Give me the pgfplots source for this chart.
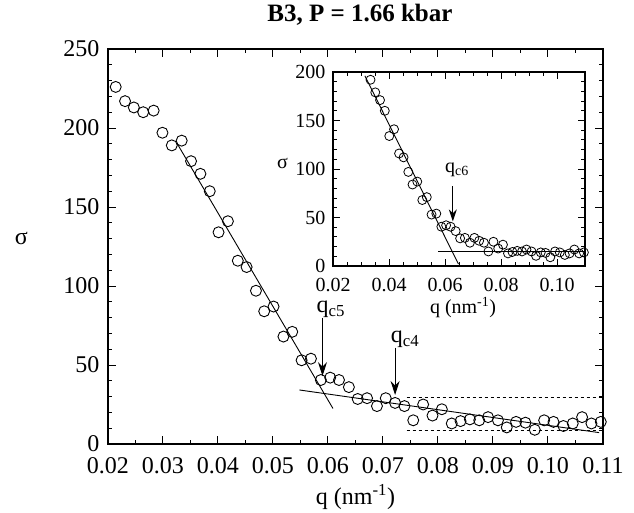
\documentclass[border=0pt]{standalone}
\usepackage{fontspec}
\setmainfont{Liberation Serif}
\usepackage{pgfplots}
\usepackage{pgfplotstable}
\pgfplotsset{compat=1.18}
\usetikzlibrary{arrows.meta}

% sigma vs q, same measurements in both panels
\pgfplotstableread{
q      s
0.0214 226
0.0231 217
0.0247 213
0.0264 210
0.0283 211
0.0299 197
0.0316 189
0.0334 192
0.0351 179
0.0368 171
0.0385 160
0.0401 134
0.0418 141
0.0436 116
0.0452 112
0.0469 97
0.0484 84
0.0501 87
0.0519 68
0.0535 71
0.0552 53
0.0569 54
0.0587 40.5
0.0604 42
0.0620 40.5
0.0638 36
0.0654 28.5
0.0671 29
0.0689 24
0.0705 29
0.0722 26
0.0739 24
0.0755 15
0.0773 25
0.0790 18
0.0807 22
0.0825 13
0.0841 14.5
0.0858 15.6
0.0875 15
0.0891 17
0.0909 15
0.0925 10.5
0.0942 14
0.0959 13.5
0.0976 9
0.0993 15
0.1010 14
0.1028 11.4
0.1045 13
0.1062 17
0.1079 13
0.1096 14
}\sigdata

\newcommand{\bigfont}{\fontsize{24}{28}\selectfont}
\newcommand{\smallfont}{\fontsize{20}{24}\selectfont}

\begin{document}
\begin{tikzpicture}
\begin{axis}[
    name=main,
    scale only axis,
    width=495pt, height=395pt,
    xmin=0.02, xmax=0.11,
    ymin=0, ymax=250,
    xtick={0.02,0.03,...,0.11},
    ytick={0,50,...,250},
    minor x tick num=1,
    minor y tick num=4,
    major tick length=8pt,
    minor tick length=4pt,
    axis line style={line width=1.2pt},
    every tick/.style={black, line width=1pt},
    /pgf/number format/assume math mode=true,
    xticklabel style={font=\bigfont, yshift=-10pt, /pgf/number format/.cd, fixed, fixed zerofill, precision=2},
    yticklabel style={font=\bigfont, xshift=-5pt},
    scaled x ticks=false,
    xlabel={q (nm\textsuperscript{-1})},
    xlabel style={font=\bigfont, at={(axis description cs:0.5,-0.135)}, anchor=center},
    ylabel={σ},
    ylabel style={font=\bigfont, at={(axis description cs:-0.175,0.52)}, rotate=-90, anchor=center},
    clip=false,
]
\addplot[only marks, mark=o, mark size=5.5pt, mark options={line width=0.9pt}, black]
    table[x=q, y=s] {\sigdata};
% fitted lines
\addplot[black, line width=0.9pt] coordinates {(0.0326,190) (0.0609,22.5)};
\addplot[black, line width=0.9pt] coordinates {(0.0548,34.2) (0.1093,7.2)};
% dashed band
\addplot[black, dashed, line width=0.8pt] coordinates {(0.0743,29.3) (0.11,29.3)};
\addplot[black, dashed, line width=0.8pt] coordinates {(0.0743,8.9) (0.11,8.9)};
% arrows and labels
\draw[line width=1pt, -{Stealth[length=14pt,width=9pt]}] (axis cs:0.0590,80) -- (axis cs:0.0590,43);
\node[font=\bigfont] at (axis cs:0.0605,85) {q\textsubscript{c5}};
\draw[line width=1pt, -{Stealth[length=14pt,width=9pt]}] (axis cs:0.0722,61) -- (axis cs:0.0722,31);
\node[font=\bigfont] at (axis cs:0.0740,66) {q\textsubscript{c4}};
\node[font=\bfseries\fontsize{25}{29}\selectfont] at (axis description cs:0.509,1.086) {B3, P = 1.66 kbar};
\end{axis}

\begin{axis}[
    at={(main.south west)}, shift={(225pt,178pt)},
    anchor=south west,
    scale only axis,
    width=252pt, height=194pt,
    axis background/.style={fill=white},
    xmin=0.02, xmax=0.11,
    ymin=0, ymax=200,
    xtick={0.02,0.04,...,0.10},
    ytick={0,50,...,200},
    minor x tick num=3,
    minor y tick num=4,
    major tick length=7pt,
    minor tick length=4pt,
    axis line style={line width=1.1pt},
    every tick/.style={black, line width=0.9pt},
    /pgf/number format/assume math mode=true,
    xticklabel style={font=\smallfont, yshift=-9pt, /pgf/number format/.cd, fixed, fixed zerofill, precision=2},
    yticklabel style={font=\smallfont, xshift=-4pt},
    scaled x ticks=false,
    xlabel={q (nm\textsuperscript{-1})},
    xlabel style={font=\smallfont, at={(axis description cs:0.516,-0.215)}, anchor=center},
    ylabel={σ},
    ylabel style={font=\smallfont, at={(axis description cs:-0.2,0.53)}, rotate=-90, anchor=center},
]
\addplot[only marks, mark=o, mark size=4.5pt, mark options={line width=0.8pt}, black,
    restrict x to domain=0.033:0.12]
    table[x=q, y=s] {\sigdata};
\addplot[black, line width=0.9pt] coordinates {(0.0314,196) (0.0648,2)};
\addplot[black, line width=0.9pt] coordinates {(0.0576,15) (0.11,15)};
\draw[line width=1pt, -{Stealth[length=12pt,width=8pt]}] (axis cs:0.0628,82) -- (axis cs:0.0628,46);
\node[font=\smallfont] at (axis cs:0.0643,99) {q\textsubscript{c6}};
\end{axis}

\pgfresetboundingbox
\path (main.south west) ++(-108pt,-68pt) rectangle ++(634pt,512pt);
\end{tikzpicture}
\end{document}
